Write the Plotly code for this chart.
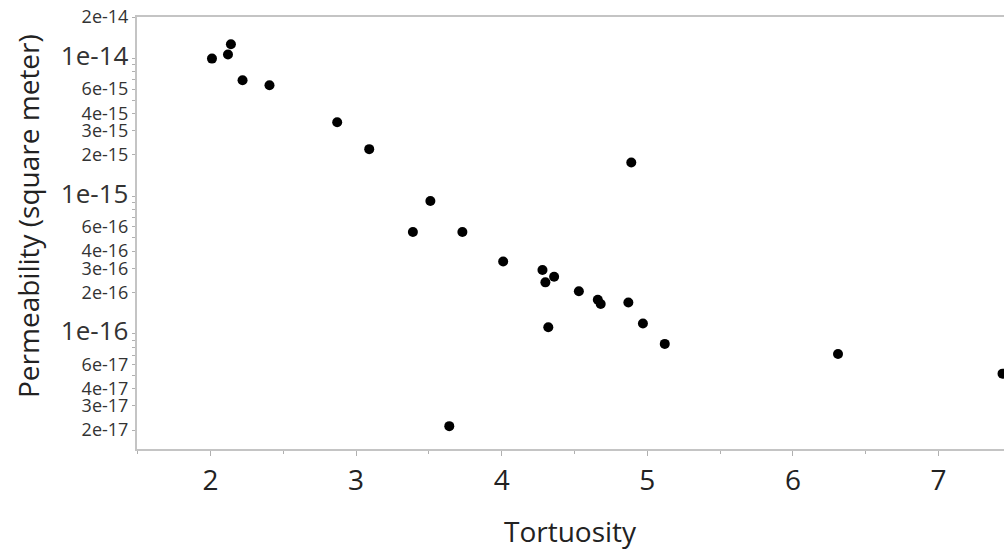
import numpy as np
import plotly.graph_objects as go

tortuosity = [2.01, 2.12, 2.14, 2.22, 2.405, 2.87, 3.09, 3.39, 3.51, 3.73,
              4.01, 4.28, 4.30, 4.36, 4.53, 4.66, 4.68, 4.87, 4.89, 4.97,
              4.32, 5.12, 6.31, 7.44, 3.64]
permeability = [1.0e-14, 1.07e-14, 1.27e-14, 6.96e-15, 6.41e-15, 3.45e-15, 2.2e-15, 5.5e-16, 9.25e-16, 5.5e-16,
                3.36e-16, 2.91e-16, 2.37e-16, 2.6e-16, 2.04e-16, 1.77e-16, 1.65e-16, 1.69e-16, 1.76e-15, 1.19e-16,
                1.12e-16, 8.47e-17, 7.16e-17, 5.15e-17, 2.14e-17]

x_ticks = [2, 3, 4, 5, 6, 7]
y_labeled = {2e-14: "2e-14", 1e-14: "1e-14", 6e-15: "6e-15", 4e-15: "4e-15", 3e-15: "3e-15",
             2e-15: "2e-15", 1e-15: "1e-15", 6e-16: "6e-16", 4e-16: "4e-16", 3e-16: "3e-16",
             2e-16: "2e-16", 1e-16: "1e-16", 6e-17: "6e-17", 4e-17: "4e-17", 3e-17: "3e-17",
             2e-17: "2e-17"}
major_labels = {"1e-14", "1e-15", "1e-16"}

ytickvals, yticktext = [], []
for e in [-17, -16, -15, -14]:
    for m in range(1, 10):
        v = float(f"{m}e{e}")
        if v < 1.46e-17 or v > 2.01e-14:
            continue
        ytickvals.append(v)
        lab = ""
        for k, t in y_labeled.items():
            if abs(k - v) / v < 1e-6:
                lab = t
        if lab in major_labels:
            lab = f'<span style="font-size:26px">{lab}</span>'
        yticktext.append(lab)

W, H = 1004, 554
L, T = 137, 17
B = H - 449
R = 0
plot_w = W - L - R
plot_h = H - T - B

fig = go.Figure()
fig.add_trace(go.Scatter(
    x=tortuosity, y=permeability, mode="markers",
    marker=dict(color="black", size=10),
    cliponaxis=False, showlegend=False,
))

font_family = "Open Sans, Noto Sans, sans-serif"
fig.update_layout(
    width=W, height=H,
    margin=dict(l=L, r=R, t=T, b=B, pad=0),
    paper_bgcolor="white", plot_bgcolor="white",
    font=dict(family=font_family, color="#222222"),
    xaxis=dict(
        range=[1.495, 7.45], tickvals=x_ticks, ticktext=[str(v) for v in x_ticks],
        ticks="outside", ticklen=5, tickcolor="#b0b0b0", tickwidth=1,
        tickfont=dict(size=28, color="#222222"),
        showgrid=False, zeroline=False,
        showline=True, linecolor="#c4c4c4", linewidth=2, mirror=True,
        minor=dict(dtick=0.5, tick0=1.5, ticks="outside", ticklen=3, tickcolor="#b0b0b0", showgrid=False),
    ),
    yaxis=dict(
        type="log", range=[np.log10(1.46e-17), np.log10(2.005e-14)],
        tickvals=ytickvals, ticktext=yticktext,
        ticks="outside", ticklen=3, tickcolor="#b0b0b0", tickwidth=1,
        tickfont=dict(size=18, color="#333333"),
        showgrid=False, zeroline=False,
        showline=True, linecolor="#c4c4c4", linewidth=2, mirror=False,
    ),
)

fig.add_annotation(text="Tortuosity", xref="paper", yref="paper",
                   x=(570 - L) / plot_w, y=(H - B - 531) / plot_h,
                   showarrow=False, font=dict(size=28, color="#222222"),
                   xanchor="center", yanchor="middle")
fig.add_annotation(text="Permeability (square meter)", xref="paper", yref="paper",
                   x=(28 - L) / plot_w, y=(H - B - 216) / plot_h,
                   showarrow=False, textangle=-90, font=dict(size=28, color="#222222"),
                   xanchor="center", yanchor="middle")

fig.write_html("out.html", config={"displayModeBar": False},
               post_script="document.body.style.margin='0';document.body.style.overflow='hidden';")
